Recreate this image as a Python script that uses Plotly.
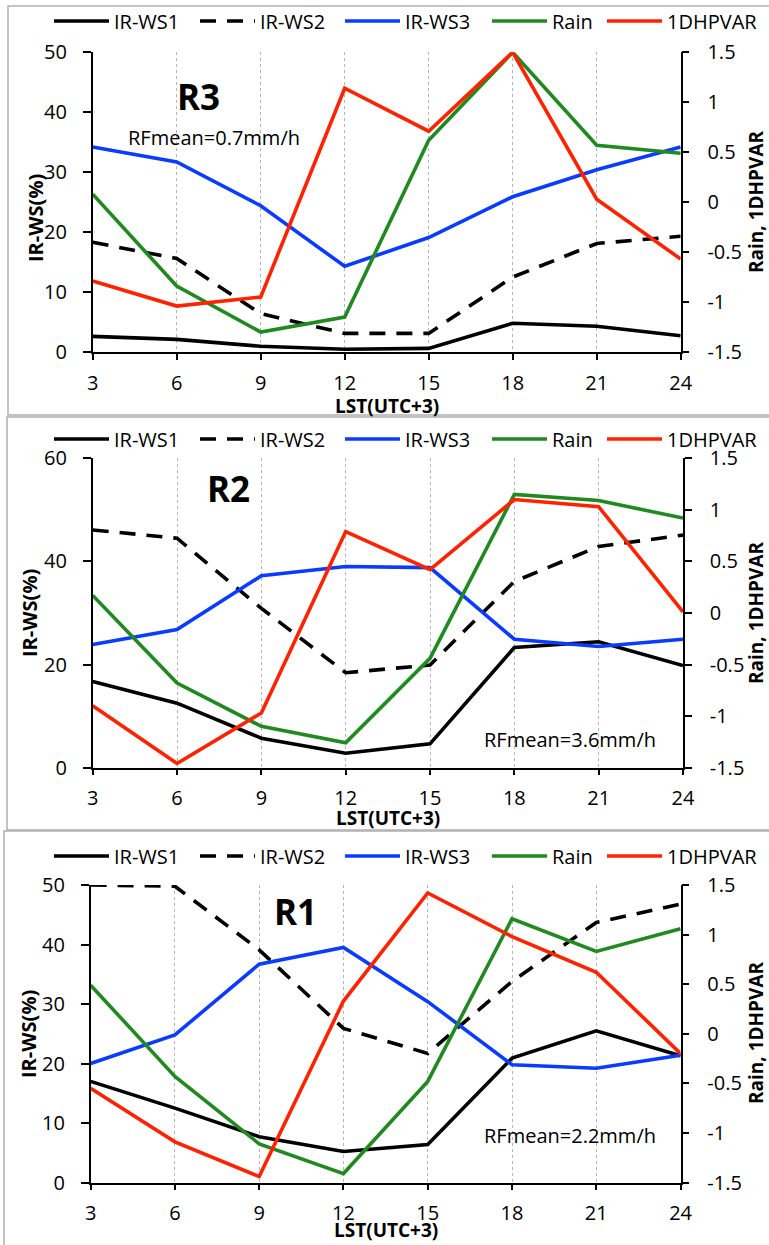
import plotly.graph_objects as go

# ---------------- data ----------------
hours = [3, 6, 9, 12, 15, 18, 21, 24]
x_tick_labels = ["3", "6", "9", "12", "15", "18", "21", "24"]
right_tick_vals = [-1.5, -1.0, -0.5, 0.0, 0.5, 1.0, 1.5]
right_tick_text = ["-1.5", "-1", "-0.5", "0", "0.5", "1", "1.5"]
left_ticks_50 = [0, 10, 20, 30, 40, 50]
left_ticks_60 = [0, 20, 40, 60]

series_names = ["IR-WS1", "IR-WS2", "IR-WS3", "Rain", "1DHPVAR"]

# R3 (top panel)
r3_ws1 = [2.6, 2.1, 0.95, 0.45, 0.6, 4.8, 4.3, 2.7]
r3_ws2 = [18.3, 15.6, 6.4, 3.1, 3.1, 12.5, 18.1, 19.3]
r3_ws3 = [34.2, 31.7, 24.4, 14.3, 19.1, 25.9, 30.4, 34.2]
r3_rain = [0.08, -0.84, -1.30, -1.15, 0.62, 1.50, 0.57, 0.49]
r3_hpvar = [-0.79, -1.04, -0.95, 1.14, 0.71, 1.50, 0.03, -0.57]

# R2 (middle panel)
r2_ws1 = [16.7, 12.5, 5.7, 2.8, 4.6, 23.3, 24.4, 19.8]
r2_ws2 = [46.1, 44.5, 30.9, 18.4, 19.9, 36.1, 42.9, 45.1]
r2_ws3 = [23.9, 26.8, 37.2, 39.0, 38.8, 24.9, 23.5, 24.9]
r2_rain = [0.17, -0.68, -1.10, -1.26, -0.44, 1.15, 1.09, 0.92]
r2_hpvar = [-0.90, -1.46, -0.97, 0.79, 0.42, 1.10, 1.03, 0.01]

# R1 (bottom panel)
r1_ws1 = [17.0, 12.5, 7.7, 5.2, 6.4, 20.9, 25.5, 21.3]
r1_ws2 = [50.0, 49.8, 39.1, 25.9, 21.7, 33.8, 43.7, 46.8]
r1_ws3 = [20.0, 24.8, 36.7, 39.5, 30.4, 19.8, 19.2, 21.4]
r1_rain = [0.49, -0.43, -1.11, -1.41, -0.48, 1.16, 0.83, 1.06]
r1_hpvar = [-0.55, -1.09, -1.44, 0.33, 1.42, 0.98, 0.62, -0.20]

panel_labels = ["R3", "R2", "R1"]
rf_labels = ["RFmean=0.7mm/h", "RFmean=3.6mm/h", "RFmean=2.2mm/h"]

# ---------------- styling ----------------
W, H = 769, 1245
FONT = "Open Sans, Noto Sans, sans-serif"
COL = {"IR-WS1": "#000000", "IR-WS2": "#000000", "IR-WS3": "#0a3cff",
       "Rain": "#1f8a1f", "1DHPVAR": "#ff2200"}
DASH = {"IR-WS1": "solid", "IR-WS2": "16px,11px", "IR-WS3": "solid",
        "Rain": "solid", "1DHPVAR": "solid"}
LEGW = {"IR-WS1": 76, "IR-WS2": 75, "IR-WS3": 77, "Rain": 45, "1DHPVAR": 0}


def px(v):
    return v / W


def py(v):
    return 1 - v / H


panels = [
    dict(data=[r3_ws1, r3_ws2, r3_ws3, r3_rain, r3_hpvar], ymax=50, lticks=left_ticks_50,
         x0=92.7, x1=680.7, top=52.3, bot=352.0, legy=21,
         lab=(198, 96), rf=(214, 137), ytit=(35, 218), rtit=(756, 202), xtit=(386.7, 406),
         box=(8, 6, 800, 415)),
    dict(data=[r2_ws1, r2_ws2, r2_ws3, r2_rain, r2_hpvar], ymax=60, lticks=left_ticks_60,
         x0=92.7, x1=683.0, top=458.3, bot=767.6, legy=439,
         lab=(228, 488), rf=(570, 739), ytit=(30, 613), rtit=(756, 613), xtit=(388, 818),
         box=(7, 417, 800, 830)),
    dict(data=[r1_ws1, r1_ws2, r1_ws3, r1_rain, r1_hpvar], ymax=50, lticks=left_ticks_50,
         x0=90.6, x1=680.6, top=885.0, bot=1182.5, legy=856,
         lab=(295, 911), rf=(570, 1135), ytit=(28, 1034), rtit=(756, 1033), xtit=(385.5, 1230),
         box=(4, 831, 800, 1260)),
]

fig = go.Figure()
layout = dict(width=W, height=H, margin=dict(l=0, r=0, t=0, b=0, autoexpand=False),
              paper_bgcolor="white", plot_bgcolor="white",
              font=dict(family=FONT, size=20, color="black"),
              showlegend=True, annotations=[], shapes=[])

axis_common = dict(showline=True, linecolor="black", linewidth=1.5,
                   ticks="outside", tickcolor="black", tickwidth=1.5,
                   zeroline=False, automargin=False,
                   tickfont=dict(family=FONT, size=20, color="black"))


def note(text, xy, size, angle=0):
    return dict(text=text, x=px(xy[0]), y=py(xy[1]), xref="paper", yref="paper",
                xanchor="center", yanchor="middle", showarrow=False, textangle=angle,
                font=dict(family=FONT, size=size, color="black"))


for i, p in enumerate(panels):
    k = i + 1
    xa = "xaxis" if k == 1 else f"xaxis{k}"
    xr = "x" if k == 1 else f"x{k}"
    yl = 2 * k - 1
    yr = 2 * k
    yla = "yaxis" if yl == 1 else f"yaxis{yl}"
    ylr = "y" if yl == 1 else f"y{yl}"
    yra = f"yaxis{yr}"
    yrr = f"y{yr}"
    leg = "legend" if k == 1 else f"legend{k}"

    xdom = [px(p["x0"]), px(p["x1"])]
    ydom = [py(p["bot"]), py(p["top"])]

    layout[xa] = dict(axis_common, domain=xdom, anchor=ylr, range=[3, 24],
                      tickvals=hours, ticktext=x_tick_labels, ticklen=6,
                      ticklabelstandoff=6,
                      showgrid=True, gridcolor="#b4b4b4", griddash="dot", gridwidth=1)
    layout[yla] = dict(axis_common, domain=ydom, anchor=xr, range=[0, p["ymax"]],
                       tickvals=p["lticks"], ticklen=8, ticklabelstandoff=12, showgrid=False)
    layout[yra] = dict(axis_common, overlaying=ylr, anchor=xr, side="right",
                       range=[-1.5, 1.5], tickvals=right_tick_vals, ticktext=right_tick_text,
                       ticklen=7, ticklabelstandoff=14, showgrid=False)
    # overlay x axis providing the upward half of the crossing ticks
    xo = f"xaxis{k + 3}"
    layout[xo] = dict(overlaying=xr, anchor=ylr, range=[3, 24], tickvals=hours,
                      ticks="inside", ticklen=5, tickwidth=1.5, tickcolor="black",
                      showticklabels=False, showgrid=False, showline=False, zeroline=False)

    for j, name in enumerate(series_names):
        on_right = name in ("Rain", "1DHPVAR")
        fig.add_trace(go.Scatter(
            x=hours, y=p["data"][j], name=name, mode="lines",
            line=dict(color=COL[name], width=3.6, dash=DASH[name]),
            xaxis=xr, yaxis=(yrr if on_right else ylr),
            legend=leg, legendwidth=LEGW[name] if LEGW[name] else None,
            hoverinfo="skip"))

    layout[leg] = dict(orientation="h", x=px(49), xanchor="left", y=py(p["legy"]),
                       yanchor="middle", bgcolor="rgba(0,0,0,0)", borderwidth=0,
                       itemwidth=55, font=dict(family=FONT, size=20, color="black"),
                       traceorder="normal")

    ann = layout["annotations"]
    ann.append(note(f"<b>{panel_labels[i]}</b>", p["lab"], 35))
    ann.append(note(rf_labels[i], p["rf"], 20))
    ann.append(note("<b>IR-WS(%)</b>", p["ytit"], 20, -90))
    ann.append(note("<b>Rain, 1DHPVAR</b>", p["rtit"], 19, -90))
    ann.append(note("<b>LST(UTC+3)</b>", p["xtit"], 19))

    bx = p["box"]
    layout["shapes"].append(dict(type="rect", xref="paper", yref="paper",
                                 x0=px(bx[0]), x1=px(bx[2]), y0=py(bx[3]), y1=py(bx[1]),
                                 line=dict(color="#b0b0b0", width=1.5), layer="below"))

fig.update_layout(**layout)
fig.write_html("out.html", config={"displayModeBar": False},
               post_script="document.body.style.margin='0';document.body.style.overflow='hidden';")
